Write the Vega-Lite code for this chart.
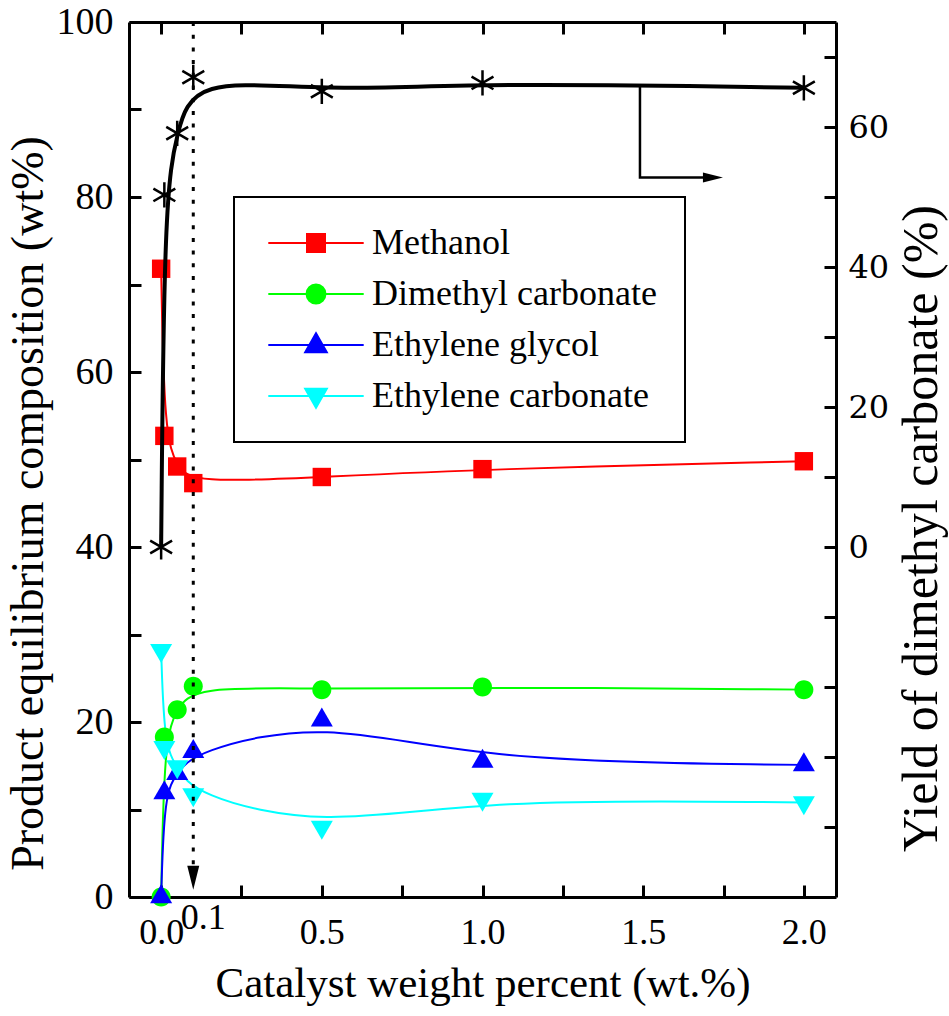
{
  "$schema": "https://vega.github.io/schema/vega-lite/v6.json",
  "width": 707,
  "height": 875,
  "autosize": {"type": "none"},
  "padding": {"left": 129, "top": 22, "right": 113, "bottom": 119},
  "background": "white",
  "config": {
    "view": {"stroke": null},
    "font": "Liberation Serif",
    "legend": {"strokeWidth": 2},
    "text": {"font": "Liberation Serif"},
    "axis": {
      "domainColor": "black", "domainWidth": 3, "tickColor": "black", "tickWidth": 3,
      "labelColor": "black", "titleColor": "black", "labelFont": "Liberation Serif",
      "titleFont": "Liberation Serif", "titleFontWeight": "normal", "grid": false,
      "labelOverlap": false, "labelFlush": false
    }
  },
  "datasets": {
    "comp": [
      {"x": 0, "series": "Methanol", "value": 71.8},
      {"x": 0.01, "series": "Methanol", "value": 52.7},
      {"x": 0.05, "series": "Methanol", "value": 49.2},
      {"x": 0.1, "series": "Methanol", "value": 47.3},
      {"x": 0.5, "series": "Methanol", "value": 48.0},
      {"x": 1.0, "series": "Methanol", "value": 48.9},
      {"x": 2.0, "series": "Methanol", "value": 49.8},
      {"x": 0, "series": "Dimethyl carbonate", "value": 0},
      {"x": 0.01, "series": "Dimethyl carbonate", "value": 18.3},
      {"x": 0.05, "series": "Dimethyl carbonate", "value": 21.4},
      {"x": 0.1, "series": "Dimethyl carbonate", "value": 24.1},
      {"x": 0.5, "series": "Dimethyl carbonate", "value": 23.7},
      {"x": 1.0, "series": "Dimethyl carbonate", "value": 24.0},
      {"x": 2.0, "series": "Dimethyl carbonate", "value": 23.7},
      {"x": 0, "series": "Ethylene glycol", "value": 0},
      {"x": 0.01, "series": "Ethylene glycol", "value": 11.9},
      {"x": 0.05, "series": "Ethylene glycol", "value": 14.1},
      {"x": 0.1, "series": "Ethylene glycol", "value": 16.6},
      {"x": 0.5, "series": "Ethylene glycol", "value": 20.2},
      {"x": 1.0, "series": "Ethylene glycol", "value": 15.5},
      {"x": 2.0, "series": "Ethylene glycol", "value": 15.1},
      {"x": 0, "series": "Ethylene carbonate", "value": 28.2},
      {"x": 0.01, "series": "Ethylene carbonate", "value": 17.1},
      {"x": 0.05, "series": "Ethylene carbonate", "value": 14.9},
      {"x": 0.1, "series": "Ethylene carbonate", "value": 11.7},
      {"x": 0.5, "series": "Ethylene carbonate", "value": 8.0},
      {"x": 1.0, "series": "Ethylene carbonate", "value": 11.2},
      {"x": 2.0, "series": "Ethylene carbonate", "value": 10.8}
    ],
    "yieldData": [
      {"x": 0, "yield": 0},
      {"x": 0.01, "yield": 50.3},
      {"x": 0.05, "yield": 59.1},
      {"x": 0.1, "yield": 67.1},
      {"x": 0.5, "yield": 65.1},
      {"x": 1.0, "yield": 66.3},
      {"x": 2.0, "yield": 65.6}
    ],
    "dotted": [{"ax": 0.1, "top": 100, "bottom": 3.5, "head": 2.2, "base": 0, "label": "0.1"}],
    "bracket": [
      {"bx": 1.49, "by": 65.9, "o": 1},
      {"bx": 1.49, "by": 52.8, "o": 2},
      {"bx": 1.69, "by": 52.8, "o": 3}
    ],
    "bracketHead": [{"bx": 1.717, "by": 52.8}]
  },
  "layer": [
    {
      "data": {"name": "comp"},
      "mark": {"type": "line", "interpolate": "basis", "strokeWidth": 2},
      "encoding": {
        "x": {
          "field": "x", "type": "quantitative",
          "scale": {"domain": [-0.1, 2.1], "nice": false, "zero": false},
          "axis": {
            "orient": "bottom",
            "title": "Catalyst weight percent (wt.%)",
            "titleFont": "Liberation Serif", "labelFont": "Liberation Serif",
            "titleFontSize": 43, "titlePadding": 12,
            "values": [0, 0.25, 0.5, 0.75, 1, 1.25, 1.5, 1.75, 2],
            "labelExpr": "round(datum.value*2) == datum.value*2 ? format(datum.value, '.1f') : ''",
            "labelFontSize": 36,
            "labelBaseline": "top",
            "tickSize": -12,
            "labelPadding": 30,
            "encode": {
              "ticks": {"y2": {"condition": {"test": "round(datum.value*2) == datum.value*2", "value": -12}, "value": -7}}
            }
          }
        },
        "y": {
          "field": "value", "type": "quantitative",
          "scale": {"domain": [0, 100], "nice": false},
          "axis": {
            "orient": "left",
            "title": "Product equilibrium composition (wt%)",
            "titleFont": "Liberation Serif", "labelFont": "Liberation Serif",
            "titleFontSize": 46, "titlePadding": 4, "titleY": 481,
            "values": [0, 10, 20, 30, 40, 50, 60, 70, 80, 90, 100],
            "labelExpr": "datum.value % 20 == 0 ? datum.value : ''",
            "labelFontSize": 38,
            "tickSize": -12,
            "labelPadding": 28,
            "encode": {
              "ticks": {"x2": {"condition": {"test": "datum.value % 20 == 0", "value": 12}, "value": 7}}
            }
          }
        },
        "color": {
          "field": "series", "type": "nominal",
          "scale": {"domain": ["Methanol", "Dimethyl carbonate", "Ethylene glycol", "Ethylene carbonate"], "range": ["#ff0000", "#00ff00", "#0000ff", "#00ffff"]},
          "legend": {
            "orient": "none", "legendX": 105, "legendY": 175, "title": null,
            "labelFont": "Liberation Serif", "labelFontSize": 36, "labelColor": "black", "labelLimit": 500,
            "symbolSize": 324, "symbolOffset": 36, "labelOffset": 38, "padding": 28, "rowPadding": 15,
            "symbolStrokeWidth": 2, "symbolOpacity": 1,
            "strokeColor": "black"
          }
        }
      }
    },
    {
      "data": {"name": "comp"},
      "transform": [{"filter": "datum.x > 99"}],
      "mark": {"type": "point", "filled": true, "opacity": 1, "size": 324},
      "encoding": {
        "x": {"field": "x", "type": "quantitative", "scale": {"domain": [-0.1, 2.1], "nice": false, "zero": false}, "axis": null},
        "y": {"field": "value", "type": "quantitative", "scale": {"domain": [0, 100], "nice": false}, "axis": null},
        "color": {"field": "series", "type": "nominal"},
        "shape": {
          "field": "series", "type": "nominal",
          "scale": {"domain": ["Methanol", "Dimethyl carbonate", "Ethylene glycol", "Ethylene carbonate"],
            "range": ["M-5.3,0H5.3M-1,-1H1V1H-1Z", "M-5.3,0H5.3M1.05,0A1.05,1.05,0,1,1,-1.05,0A1.05,1.05,0,1,1,1.05,0Z", "M-5.3,0H5.3M0,-1.3L1.2,0.8L-1.2,0.8Z", "M-5.3,0H5.3M0,1.3L1.2,-0.8L-1.2,-0.8Z"]}
        }
      }
    },
    {
      "data": {"name": "comp"},
      "transform": [{"filter": "datum.series === 'Methanol'"}],
      "mark": {"type": "point", "filled": true, "opacity": 1, "size": 400, "shape": "M-0.92,-0.92H0.92V0.92H-0.92Z"},
      "encoding": {
        "x": {"field": "x", "type": "quantitative", "scale": {"domain": [-0.1, 2.1], "nice": false, "zero": false}, "axis": null},
        "y": {"field": "value", "type": "quantitative", "scale": {"domain": [0, 100], "nice": false}, "axis": null},
        "color": {"field": "series", "type": "nominal", "legend": null}
      }
    },
    {
      "data": {"name": "comp"},
      "transform": [{"filter": "datum.series === 'Dimethyl carbonate'"}],
      "mark": {"type": "point", "filled": true, "opacity": 1, "size": 400, "shape": "M0.95,0A0.95,0.95,0,1,1,-0.95,0A0.95,0.95,0,1,1,0.95,0Z"},
      "encoding": {
        "x": {"field": "x", "type": "quantitative", "scale": {"domain": [-0.1, 2.1], "nice": false, "zero": false}, "axis": null},
        "y": {"field": "value", "type": "quantitative", "scale": {"domain": [0, 100], "nice": false}, "axis": null},
        "color": {"field": "series", "type": "nominal", "legend": null}
      }
    },
    {
      "data": {"name": "comp"},
      "transform": [{"filter": "datum.series === 'Ethylene glycol'"}],
      "mark": {"type": "point", "filled": true, "opacity": 1, "size": 400, "shape": "M0,-1.27L1.1,0.63L-1.1,0.63Z"},
      "encoding": {
        "x": {"field": "x", "type": "quantitative", "scale": {"domain": [-0.1, 2.1], "nice": false, "zero": false}, "axis": null},
        "y": {"field": "value", "type": "quantitative", "scale": {"domain": [0, 100], "nice": false}, "axis": null},
        "color": {"field": "series", "type": "nominal", "legend": null}
      }
    },
    {
      "data": {"name": "comp"},
      "transform": [{"filter": "datum.series === 'Ethylene carbonate'"}],
      "mark": {"type": "point", "filled": true, "opacity": 1, "size": 400, "shape": "M0,1.27L1.1,-0.63L-1.1,-0.63Z"},
      "encoding": {
        "x": {"field": "x", "type": "quantitative", "scale": {"domain": [-0.1, 2.1], "nice": false, "zero": false}, "axis": null},
        "y": {"field": "value", "type": "quantitative", "scale": {"domain": [0, 100], "nice": false}, "axis": null},
        "color": {"field": "series", "type": "nominal", "legend": null}
      }
    },
    {
      "data": {"name": "dotted"},
      "mark": {"type": "rule", "strokeDash": [4, 8.7], "strokeWidth": 3, "color": "black"},
      "encoding": {
        "x": {"field": "ax", "type": "quantitative", "scale": {"domain": [-0.1, 2.1], "nice": false, "zero": false}, "axis": null},
        "y": {"field": "top", "type": "quantitative", "scale": {"domain": [0, 100], "nice": false}, "axis": null},
        "y2": {"field": "bottom"}
      }
    },
    {
      "data": {"name": "dotted"},
      "mark": {"type": "point", "filled": true, "color": "black", "opacity": 1, "size": 576, "shape": "M-0.5,-1L0.5,-1L0,1Z"},
      "encoding": {
        "x": {"field": "ax", "type": "quantitative", "scale": {"domain": [-0.1, 2.1], "nice": false, "zero": false}, "axis": null},
        "y": {"field": "head", "type": "quantitative", "scale": {"domain": [0, 100], "nice": false}, "axis": null}
      }
    },
    {
      "data": {"name": "dotted"},
      "mark": {"type": "text", "font": "Liberation Serif", "fontSize": 36, "color": "black", "baseline": "top", "align": "center", "dx": 10, "dy": 4},
      "encoding": {
        "x": {"field": "ax", "type": "quantitative", "scale": {"domain": [-0.1, 2.1], "nice": false, "zero": false}, "axis": null},
        "y": {"field": "base", "type": "quantitative", "scale": {"domain": [0, 100], "nice": false}, "axis": null},
        "text": {"field": "label"}
      }
    },
    {
      "data": {"name": "yieldData"},
      "mark": {"type": "line", "interpolate": "basis", "strokeWidth": 4, "color": "black"},
      "encoding": {
        "x": {
          "field": "x", "type": "quantitative",
          "scale": {"domain": [-0.1, 2.1], "nice": false, "zero": false},
          "axis": {
            "orient": "top", "title": null, "labels": false,
            "values": [0, 0.25, 0.5, 0.75, 1, 1.25, 1.5, 1.75, 2],
            "tickSize": -12,
            "encode": {
              "ticks": {"y2": {"condition": {"test": "round(datum.value*2) == datum.value*2", "value": 12}, "value": 7}}
            }
          }
        },
        "y": {
          "field": "yield", "type": "quantitative",
          "scale": {"domain": [-50, 75], "nice": false, "zero": false},
          "axis": {
            "orient": "right",
            "title": "Yield of dimethyl carbonate (%)",
            "titleFont": "Liberation Serif", "labelFont": "DejaVu Serif",
            "titleFontSize": 50, "titleAngle": -90, "titleBaseline": "top", "titlePadding": 8, "titleY": 506,
            "values": [-40, -30, -20, -10, 0, 10, 20, 30, 40, 50, 60, 70],
            "labelExpr": "(datum.value >= 0 && datum.value % 20 == 0) ? datum.value : ''",
            "labelFontSize": 32,
            "tickSize": -12,
            "labelPadding": 24,
            "encode": {
              "ticks": {"x2": {"condition": {"test": "datum.value >= 0 && datum.value % 20 == 0", "value": -12}, "value": -7}}
            }
          }
        }
      }
    },
    {
      "data": {"name": "yieldData"},
      "mark": {"type": "point", "filled": false, "color": "black", "opacity": 1, "strokeWidth": 2.5, "size": 480, "shape": "M0,-1.15V1.15M-1,-0.58L1,0.58M-1,0.58L1,-0.58"},
      "encoding": {
        "x": {"field": "x", "type": "quantitative", "scale": {"domain": [-0.1, 2.1], "nice": false, "zero": false}, "axis": null},
        "y": {"field": "yield", "type": "quantitative", "scale": {"domain": [-50, 75], "nice": false, "zero": false}, "axis": null}
      }
    },
    {
      "data": {"name": "bracket"},
      "mark": {"type": "line", "strokeWidth": 2.5, "color": "black"},
      "encoding": {
        "x": {"field": "bx", "type": "quantitative", "scale": {"domain": [-0.1, 2.1], "nice": false, "zero": false}, "axis": null},
        "y": {"field": "by", "type": "quantitative", "scale": {"domain": [-50, 75], "nice": false, "zero": false}, "axis": null},
        "order": {"field": "o"}
      }
    },
    {
      "data": {"name": "bracketHead"},
      "mark": {"type": "point", "filled": true, "color": "black", "opacity": 1, "size": 400, "shape": "M-1,-0.5L1,0L-1,0.5Z"},
      "encoding": {
        "x": {"field": "bx", "type": "quantitative", "scale": {"domain": [-0.1, 2.1], "nice": false, "zero": false}, "axis": null},
        "y": {"field": "by", "type": "quantitative", "scale": {"domain": [-50, 75], "nice": false, "zero": false}, "axis": null}
      }
    }
  ],
  "resolve": {"scale": {"y": "independent"}, "axis": {"x": "independent", "y": "independent"}}
}
